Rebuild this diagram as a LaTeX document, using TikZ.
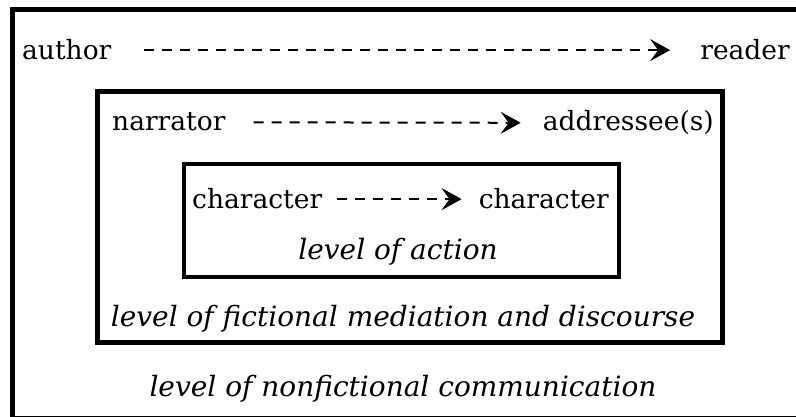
\documentclass[tikz,border=0pt]{standalone}
\usepackage{fontspec}
\setmainfont{DejaVu Serif}
\usetikzlibrary{arrows.meta}
\begin{document}
\begin{tikzpicture}[x=1pt,y=-1pt,
  frame/.style={draw=black,line width=#1},
  lbl/.style={inner sep=0pt,font=\fontsize{26.5}{30}\selectfont},
  lvl/.style={inner sep=0pt,font=\fontsize{28}{32}\selectfont\itshape},
  flow/.style={line width=2pt,dash pattern=on 10pt off 8pt,
    -{Stealth[length=20pt,width=22pt,inset=8pt]}}]
\useasboundingbox (0,0) rectangle (796,417);
\fill[white] (0,0) rectangle (796,417);
% frames
\draw[frame=5pt] (12,10) rectangle (810,418);
\draw[frame=5pt] (97,92) rectangle (722,342);
\draw[frame=4.5pt] (184,164) rectangle (619,277);
% outer level
\node[lbl,anchor=base west] (author) at (22,60) {author};
\node[lbl,anchor=base east] (reader) at (790,60) {reader};
\draw[flow,shorten <=32pt,shorten >=30pt] (author) -- (reader);
% middle level
\node[lbl,anchor=base west] (narrator) at (112,131) {narrator};
\node[lbl,anchor=base east] (addressee) at (714,131) {addressee(s)};
\draw[flow,shorten <=28pt,shorten >=22pt] (narrator) -- (addressee);
% inner level
\node[lbl,anchor=base west] (char1) at (192,209) {character};
\node[lbl,anchor=base east] (char2) at (609,209) {character};
\draw[flow,shorten <=15pt,shorten >=17pt] (char1) -- (char2);
% level labels
\node[lvl,anchor=base] (action) at (398,259) {level of action};
\node[lvl,anchor=base] (mediation) at (403,326) {level of fictional mediation and discourse};
\node[lvl,anchor=base] (nonfiction) at (403,396) {level of nonfictional communication};
\end{tikzpicture}
\end{document}
